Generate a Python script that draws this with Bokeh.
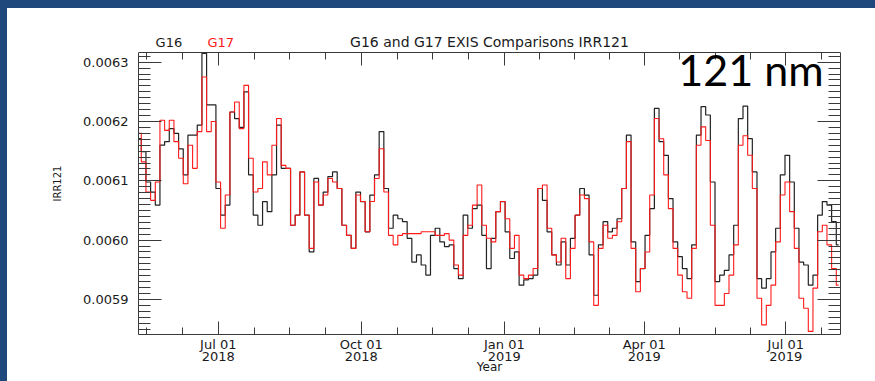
import numpy as np
import pandas as pd
from bokeh.plotting import figure
from bokeh.models import (Range1d, FixedTicker, LinearAxis, DatetimeAxis, Label,
                          PrintfTickFormatter, CustomJSTickFormatter)
from bokeh.embed import file_html
from bokeh.resources import INLINE

# ---------------- data ----------------
start_date = "2018-05-11"
step_days = 3
# irradiance in units of 1e-5 (W/m^2), one value every 3 days
g16_e5 = [
    617.1, 614.9, 609.8, 608.1, 605.9, 616.0, 616.6, 618.8, 618.0, 615.4,
    611.0, 617.7, 617.7, 619.4, 631.5, 622.8, 622.8, 608.7, 604.2, 605.9,
    621.6, 620.5, 619.0, 625.0, 611.0, 604.2, 602.5, 606.5, 604.8, 611.0,
    619.4,
    612.1, 612.1, 602.5, 604.2, 611.5, 604.2, 598.0, 610.4, 605.9, 608.1,
    610.7, 611.5, 608.7, 602.5, 600.8, 598.6, 608.1, 606.5, 601.4, 607.6,
    611.0, 618.3, 608.7, 602.0, 604.2, 603.6, 603.1, 600.3, 596.3, 597.5,
    595.8, 594.1, 600.8, 602.0, 599.7, 598.9, 599.2, 595.2, 593.5, 604.2,
    602.0, 605.3, 605.9, 600.8, 595.2, 600.3, 604.8, 606.5, 601.4, 596.9,
    598.0, 592.4, 593.3, 593.5, 594.1, 608.7, 606.7, 601.4, 597.5, 595.8,
    599.7,
    595.8, 600.3, 604.2, 608.7, 607.6, 597.5, 590.7, 599.2, 603.1, 601.4,
    602.0, 603.6, 608.7, 617.7, 599.7, 593.0, 595.2, 600.8, 605.3, 622.2,
    616.6, 614.3, 607.0, 599.7, 597.2, 595.2, 593.5, 599.2, 617.7, 622.5,
    621.1, 609.8, 593.0, 594.1, 594.9, 597.5, 602.5, 620.5, 622.6, 617.1,
    611.5, 593.5, 591.9, 593.5, 598.0, 602.0, 611.0, 614.3, 609.8, 602.0,
    596.3, 595.8, 592.4, 594.1, 604.2, 606.5, 605.9, 603.1, 599.2,
]
g17_e5 = [
    618.0, 613.2, 608.1, 606.7, 609.8, 620.2, 618.5, 620.2, 616.6, 613.8,
    609.5, 616.0, 612.1, 618.3, 627.5, 618.3, 620.0, 609.8, 602.0, 607.6,
    621.6, 623.3, 618.8, 626.1, 613.8, 608.1, 608.7, 613.2, 611.0, 616.0,
    620.5,
    612.6, 612.1, 602.5, 604.2, 611.5, 604.2, 598.6, 609.8, 605.9, 607.6,
    610.4, 609.8, 608.7, 602.5, 600.8, 598.6, 607.6, 606.5, 601.4, 606.5,
    610.4, 615.4, 608.1, 600.8, 599.2, 600.8, 601.1, 601.1, 601.1, 601.1,
    601.4, 601.4, 601.4, 600.8, 600.8, 601.1, 600.0, 595.8, 594.1, 600.8,
    602.5, 605.9, 609.3, 602.5, 600.3, 599.7, 604.8, 606.5, 603.6, 598.6,
    600.8, 594.1, 593.5, 594.1, 595.2, 608.7, 609.3, 602.0, 597.5, 596.3,
    600.3,
    593.5, 598.6, 604.2, 607.6, 607.0, 599.7, 589.0, 598.6, 602.5, 600.3,
    600.8, 603.1, 608.7, 616.6, 598.6, 591.3, 595.2, 598.0, 607.6, 620.5,
    617.1, 611.0, 605.3, 598.6, 594.1, 591.3, 590.2, 598.6, 616.0, 619.1,
    616.8, 602.5, 589.0, 589.0, 591.0, 594.1, 599.2, 616.0, 617.6, 614.3,
    608.7, 590.2, 585.7, 589.0, 592.4, 599.7, 607.6, 609.8, 604.8, 598.6,
    590.2, 588.5, 584.6, 591.9, 601.4, 602.5, 599.2, 595.2, 592.4,
]
major_dates = ["2018-07-01", "2018-10-01", "2019-01-01", "2019-04-01", "2019-07-01"]
major_labels = ["Jul 01\n2018", "Oct 01\n2018", "Jan 01\n2019", "Apr 01\n2019", "Jul 01\n2019"]
y_ticks = [0.0059, 0.0060, 0.0061, 0.0062, 0.0063]
x_start, x_end = "2018-05-10 17:00", "2019-08-05 05:00"
box_bottom, box_top = 0.0058408, 0.0063164   # plot box limits
frame_top = 0.0063501                         # room above the box for the header texts

# ---------------- build ----------------
dates = pd.date_range(start_date, periods=len(g16_e5), freq=f"{step_days}D")
g16 = np.array(g16_e5) * 1e-5
g17 = np.array(g17_e5) * 1e-5

def ms(d):
    return pd.Timestamp(d).value // 10**6

xs, xe = ms(x_start), ms(x_end)
maj = [ms(d) for d in major_dates]
minor = []
first_step = (maj[1] - maj[0]) / 4
m = maj[0] - first_step
while m > xs:
    minor.append(m); m -= first_step
for a, b in zip(maj[:-1], maj[1:]):
    s = (b - a) / 4
    minor += [a + s * i for i in range(1, 4)]
last_step = (maj[-1] - maj[-2]) / 4
m = maj[-1] + last_step
while m < xe:
    minor.append(m); m += last_step

ymin = [v / 1e5 for v in range(585, 632)]

FONT = "DejaVu Sans"
AX = "#3a3a3a"
TXT = "#1a1a1a"
RED = "#ff1a1a"

p = figure(width=867, height=386, x_axis_type="datetime", output_backend="svg",
           toolbar_location=None, x_range=Range1d(xs, xe), y_range=Range1d(box_bottom, frame_top),
           min_border_left=130, min_border_right=35, min_border_top=24, min_border_bottom=60)
p.background_fill_color = "white"
p.border_fill_color = "white"
p.outline_line_color = None
p.grid.visible = False

p.step(dates, g16, mode="center", line_color="#222222", line_width=1.2)
p.step(dates, g17, mode="center", line_color=RED, line_width=1.1)

xt = FixedTicker(ticks=maj, minor_ticks=minor)
yt = FixedTicker(ticks=y_ticks, minor_ticks=ymin)
blank = CustomJSTickFormatter(code="return ''")

def style_x(ax, labels):
    ax.ticker = xt
    ax.major_tick_in = 13; ax.major_tick_out = 0
    ax.minor_tick_in = 7; ax.minor_tick_out = 0
    ax.axis_line_color = AX; ax.major_tick_line_color = AX; ax.minor_tick_line_color = AX
    if labels:
        ax.major_label_overrides = {t: l for t, l in zip(maj, major_labels)}
        ax.major_label_text_font = FONT
        ax.major_label_text_font_size = "13px"
        ax.major_label_text_color = TXT
        ax.major_label_text_line_height = 0.85
        ax.major_label_standoff = 2
    else:
        ax.formatter = blank
        ax.major_label_standoff = 0
        ax.major_label_text_font_size = "8px"

def style_y(ax, labels):
    ax.ticker = yt
    ax.bounds = (box_bottom, box_top)
    ax.major_tick_in = 23; ax.major_tick_out = 0
    ax.minor_tick_in = 12; ax.minor_tick_out = 0
    ax.axis_line_color = AX; ax.major_tick_line_color = AX; ax.minor_tick_line_color = AX
    if labels:
        ax.formatter = PrintfTickFormatter(format="%.4f")
        ax.major_label_text_font = FONT
        ax.major_label_text_font_size = "13px"
        ax.major_label_text_color = TXT
        ax.major_label_standoff = 10
    else:
        ax.formatter = blank
        ax.major_label_standoff = 0
        ax.major_label_text_font_size = "8px"

xb = p.xaxis[0]
style_x(xb, True)
xb.axis_label = "Year"
xb.axis_label_text_font = FONT
xb.axis_label_text_font_size = "12px"
xb.axis_label_text_font_style = "normal"
xb.axis_label_text_color = TXT
xb.axis_label_standoff = -7

yl = p.yaxis[0]
style_y(yl, True)
yl.axis_label = "IRR121"
yl.axis_label_text_font = FONT
yl.axis_label_text_font_size = "10px"
yl.axis_label_text_font_style = "normal"
yl.axis_label_text_color = TXT
yl.axis_label_standoff = 17

xa = DatetimeAxis(fixed_location=box_top)
style_x(xa, False)
p.add_layout(xa, "above")
yr = LinearAxis()
style_y(yr, False)
p.add_layout(yr, "right")

# header texts (inside the frame, above the plot box)
head_y = 0.0063335
mid = (xs + xe) / 2
p.add_layout(Label(x=mid, y=head_y, text="G16 and G17 EXIS Comparisons IRR121", text_align="center",
                   text_baseline="middle", text_font=FONT, text_font_size="14px", text_color=TXT))
p.add_layout(Label(x=ms("2018-05-21 17:00"), y=head_y, text="G16", text_align="left",
                   text_baseline="middle", text_font=FONT, text_font_size="13px", text_color=TXT))
p.add_layout(Label(x=ms("2018-06-24 02:00"), y=head_y, text="G17", text_align="left",
                   text_baseline="middle", text_font=FONT, text_font_size="13px", text_color=RED))
p.add_layout(Label(x=ms("2019-07-25 07:00"), y=0.0062880, text="121 nm", text_align="right",
                   text_baseline="middle", text_font="Lato", text_font_size="43px", text_color="black"))

html = file_html(p, INLINE, title="G16 and G17 EXIS Comparisons IRR121")
css = ("<style>html{background:linear-gradient(to right,#1F497D 7px,rgba(0,0,0,0) 7px),"
       "linear-gradient(to bottom,#1F497D 8px,#ffffff 8px)!important;overflow:hidden!important;}"
       "body{background:transparent!important;margin:8px!important;padding:0!important;"
       "overflow:visible!important;}</style>")
html = html.replace("</head>", css + "</head>", 1)
open("out.html", "w").write(html)
